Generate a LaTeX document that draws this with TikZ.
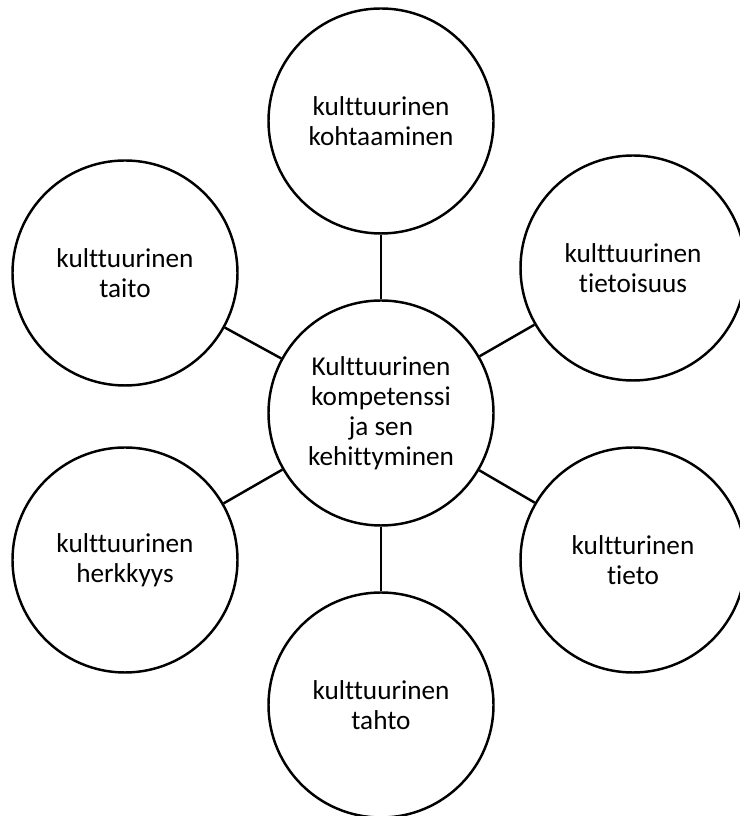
\documentclass[tikz,border=0pt]{standalone}
\usepackage{fontspec}
\setmainfont{Carlito}[Ligatures={NoCommon}]
\begin{document}
\begin{tikzpicture}[
    ympyra/.style={circle, draw, line width=1.4pt, minimum size=4.5cm, inner sep=0pt, align=center, font=\fontsize{15.5}{17}\selectfont},
    viiva/.style={line width=1.4pt}
  ]
    \useasboundingbox (0,0) rectangle (14.78,16.32);
    % Ympyrat
    \node[ympyra] (keskus) at (7.62,8.06) {Kulttuurinen\\kompetenssi\\ja sen\\kehittyminen};
    \node[ympyra] (kohtaaminen) at (7.62,13.9) {kulttuurinen\\kohtaaminen};
    \node[ympyra] (tietoisuus) at (12.66,10.96) {kulttuurinen\\tietoisuus};
    \node[ympyra] (tieto) at (12.66,5.12) {kultturinen\\tieto};
    \node[ympyra] (tahto) at (7.62,2.22) {kulttuurinen\\tahto};
    \node[ympyra] (herkkyys) at (2.5,5.12) {kulttuurinen\\herkkyys};
    \node[ympyra] (taito) at (2.5,10.86) {kulttuurinen\\taito};

    % Yhteydet
    \draw[viiva] (keskus) -- (kohtaaminen);
    \draw[viiva] (keskus) -- (tietoisuus);
    \draw[viiva] (keskus) -- (tieto);
    \draw[viiva] (keskus) -- (tahto);
    \draw[viiva] (keskus) -- (herkkyys);
    \draw[viiva] (keskus) -- (taito);
\end{tikzpicture}
\end{document}
